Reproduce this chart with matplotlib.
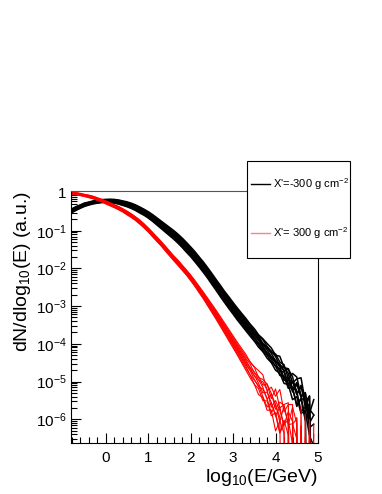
import numpy as np
import matplotlib
matplotlib.use("Agg")
import matplotlib.pyplot as plt
from matplotlib.patches import Rectangle
from matplotlib.lines import Line2D
from matplotlib.ticker import FixedLocator, NullFormatter

plt.rcParams['font.family'] = ['Liberation Sans', 'DejaVu Sans']
plt.rcParams['mathtext.fontset'] = 'custom'
plt.rcParams['mathtext.rm'] = 'Liberation Sans'
plt.rcParams['mathtext.it'] = 'Liberation Sans:italic'

# ---------------- data ----------------
log_e = np.round(np.arange(-0.8, 4.95, 0.1), 2)          # bin centres log10(E/GeV)

# mean spectra, log10(dN/dlog10E)
black_base = [-0.47, -0.41, -0.36, -0.31, -0.28, -0.25, -0.23, -0.215,
              -0.21, -0.21, -0.22, -0.24, -0.27, -0.30, -0.34, -0.39, -0.45, -0.51,
              -0.58, -0.66, -0.75, -0.84, -0.93, -1.02, -1.11, -1.21, -1.32, -1.44,
              -1.56, -1.69, -1.83, -1.97, -2.12, -2.28, -2.44, -2.60, -2.76, -2.91,
              -3.06, -3.21, -3.35, -3.49, -3.63, -3.77, -3.91, -4.05, -4.19, -4.33,
              -4.47, -4.62, -4.78, -4.94, -5.10, -5.27, -5.45, -5.64, -5.85, -6.05]
red_base = [0.00, -0.02, -0.04, -0.065, -0.09, -0.12, -0.16, -0.20,
            -0.25, -0.30, -0.35, -0.40, -0.46, -0.53, -0.60, -0.68, -0.77, -0.87,
            -0.98, -1.10, -1.22, -1.34, -1.47, -1.60, -1.73, -1.85, -1.98, -2.11,
            -2.25, -2.40, -2.56, -2.72, -2.89, -3.06, -3.23, -3.41, -3.59, -3.77,
            -3.95, -4.13, -4.31, -4.49, -4.67, -4.85, -5.03, -5.21, -5.40, -5.58,
            -5.76, -5.93, -6.08, -6.22, -6.34, -6.44, -6.52, -6.58, -6.62, -6.65]

# half-width of the shower-to-shower band (decades)
black_env = [0.05, 0.05, 0.045, 0.045, 0.04, 0.04, 0.04, 0.04,
             0.04, 0.045, 0.05, 0.055, 0.06, 0.065, 0.07, 0.075, 0.08, 0.08,
             0.085, 0.09, 0.095, 0.10, 0.105, 0.11, 0.115, 0.12, 0.125, 0.13,
             0.13, 0.135, 0.135, 0.14, 0.14, 0.145, 0.145, 0.15, 0.15, 0.155,
             0.155, 0.16, 0.16, 0.165, 0.165, 0.17, 0.17, 0.175, 0.18, 0.19,
             0.20, 0.21, 0.22, 0.24, 0.26, 0.28, 0.30, 0.32, 0.34, 0.36]
red_env = [0.03, 0.03, 0.03, 0.03, 0.035, 0.035, 0.035, 0.035,
           0.04, 0.04, 0.04, 0.045, 0.045, 0.05, 0.05, 0.05, 0.055, 0.055,
           0.055, 0.06, 0.06, 0.06, 0.065, 0.065, 0.065, 0.07, 0.07, 0.07,
           0.075, 0.08, 0.085, 0.09, 0.10, 0.11, 0.12, 0.13, 0.14, 0.15,
           0.16, 0.17, 0.19, 0.21, 0.23, 0.25, 0.27, 0.29, 0.31, 0.33,
           0.35, 0.37, 0.39, 0.41, 0.43, 0.45, 0.47, 0.49, 0.50, 0.50]

# per-shower normalisation offsets (in units of the band half-width)
black_offsets = [-1.0, -0.75, -0.5, -0.3, -0.1, 0.1, 0.3, 0.5, 0.75, 1.0]
red_offsets = [-1.0, -0.75, -0.5, -0.3, -0.1, 0.1, 0.3, 0.5, 0.75, 1.0]

# fluctuations in the high-energy tail (log10E = 3.4 ... 4.9); -9 = empty bin
black_tail = [
    [0.00, 0.01, -0.01, 0.02, -0.01, 0.02, -0.03, 0.05, -0.05, 0.10, -0.12, 0.15, -0.10, 0.20, -0.25, -0.30],
    [0.01, -0.01, 0.01, -0.02, 0.02, -0.01, 0.04, -0.06, 0.08, -0.06, 0.14, -0.18, 0.22, -0.15, 0.25, -9],
    [-0.01, 0.01, 0.00, -0.01, 0.03, 0.01, -0.03, 0.06, -0.08, 0.12, 0.05, -0.20, 0.15, 0.30, -0.20, 0.10],
    [0.00, -0.01, -0.02, 0.01, -0.02, 0.03, 0.02, -0.05, 0.10, -0.13, 0.18, 0.10, -0.25, 0.05, 0.35, -9],
    [-0.01, 0.01, 0.02, 0.00, -0.03, -0.01, 0.05, 0.03, -0.10, 0.06, -0.15, 0.22, 0.08, -0.30, 0.15, 0.20],
    [0.01, 0.01, -0.01, 0.02, 0.01, -0.03, -0.02, 0.07, 0.05, -0.14, 0.08, -0.10, 0.28, 0.12, -9, -9],
    [0.00, -0.01, 0.01, -0.01, 0.03, 0.02, -0.05, -0.03, 0.10, 0.08, -0.18, 0.16, -0.05, 0.25, -0.35, 0.05],
    [-0.01, 0.01, 0.02, -0.02, 0.00, 0.04, 0.03, -0.07, -0.05, 0.15, 0.10, -0.22, 0.20, -0.20, 0.30, -9],
    [0.01, -0.02, 0.00, 0.03, -0.01, -0.02, 0.05, -0.02, 0.06, -0.16, 0.12, 0.18, -0.15, 0.10, -0.25, 0.30],
    [-0.01, 0.00, -0.02, 0.01, 0.02, 0.03, -0.03, 0.08, -0.07, 0.04, -0.20, 0.06, 0.25, -0.22, 0.12, -9],
]
red_tail = [
    [0.00, 0.03, -0.05, 0.08, -0.05, 0.15, -0.20, 0.25, 0.10, -9, 0.30, -9, 0.20, -9, -9, -9],
    [0.02, -0.04, 0.04, -0.08, 0.12, -0.08, 0.20, -0.15, 0.35, 0.10, -9, 0.25, -9, 0.30, -9, -9],
    [-0.03, 0.01, 0.06, -0.04, -0.12, 0.18, 0.05, -0.25, 0.15, 0.40, -0.10, -9, 0.45, -9, 0.20, -9],
    [0.03, -0.02, -0.03, 0.10, 0.04, -0.15, 0.25, 0.10, -9, 0.20, 0.35, 0.05, -9, -9, 0.40, -9],
    [-0.01, 0.04, 0.01, -0.06, 0.15, 0.05, -0.12, 0.30, -0.10, -9, 0.25, 0.50, -9, 0.15, -9, 0.30],
    [0.01, -0.03, 0.05, 0.03, -0.10, 0.22, 0.12, -0.18, 0.40, 0.05, -9, -9, 0.30, -9, -9, -9],
    [-0.03, 0.03, -0.01, 0.12, 0.08, -0.20, 0.15, 0.05, -0.20, 0.30, 0.15, -9, 0.20, -9, 0.45, -9],
    [0.02, -0.05, 0.03, -0.03, 0.18, 0.10, -0.15, 0.20, 0.25, -0.15, 0.45, 0.10, -9, -9, -9, 0.25],
    [0.02, 0.04, -0.07, 0.05, 0.10, -0.12, 0.30, -0.05, 0.18, 0.35, -9, 0.15, -9, 0.35, -9, -9],
    [-0.04, -0.01, 0.05, 0.10, -0.15, 0.10, 0.02, 0.35, -0.12, 0.20, 0.30, -9, 0.40, -9, 0.10, -9],
]

legend_labels = ["X'=-300 g cm$^{-2}$", "X'= 300 g cm$^{-2}$"]
x_ticks = [0, 1, 2, 3, 4, 5]
y_tick_exps = [0, -1, -2, -3, -4, -5, -6]
x_label = "log$_{10}$(E/GeV)"
y_label = "dN/dlog$_{10}$(E) (a.u.)"

# ---------------- figure ----------------
W, H = 382, 494
fig = plt.figure(figsize=(W / 100, H / 100), dpi=100)
ax = fig.add_axes([71 / W, 1 - 443 / H, (318 - 71) / W, (443 - 191) / H])


def curves(base, env, offsets, tail):
    base = np.array(base)
    env = np.array(env)
    out = []
    for off, tl in zip(offsets, tail):
        y = base + off * env
        y[-len(tl):] += np.array(tl)
        out.append(10.0 ** y)
    return out


for y in curves(black_base, black_env, black_offsets, black_tail):
    ax.plot(log_e, y, color='black', lw=1.1, solid_joinstyle='round')
for y in curves(red_base, red_env, red_offsets, red_tail):
    ax.plot(log_e, y, color='#ff0000', lw=0.8, solid_joinstyle='round')

ax.set_yscale('log')
ax.set_xlim(-0.82, 5.0)
ax.set_ylim(10 ** -6.63, 10 ** 0.053)

ax.xaxis.set_major_locator(FixedLocator(x_ticks))
ax.xaxis.set_minor_locator(FixedLocator(np.round(np.arange(-0.8, 5.0, 0.2), 2)))
ax.set_xticklabels([str(v) for v in x_ticks])
ax.yaxis.set_major_locator(FixedLocator([10.0 ** e for e in y_tick_exps]))
minor_y = [m * 10.0 ** e for e in range(-7, 1) for m in range(2, 10)]
ax.yaxis.set_minor_locator(FixedLocator(minor_y))
ax.yaxis.set_minor_formatter(NullFormatter())
ax.set_yticklabels(["1" if e == 0 else "$10^{%d}$" % e for e in y_tick_exps])

ax.tick_params(axis='both', which='both', direction='in', top=False, right=False,
               width=0.8, labelsize=11)
ax.tick_params(axis='both', which='major', length=7)
ax.tick_params(axis='both', which='minor', length=4)
ax.tick_params(axis='x', pad=6)
ax.tick_params(axis='y', pad=3)
for s in ax.spines.values():
    s.set_linewidth(0.8)
    s.set_color('black')
ax.spines['top'].set_color('#555555')

ax.set_xlabel(x_label, fontsize=14, loc='right', labelpad=1)
ax.set_ylabel(y_label, fontsize=14, loc='top', labelpad=2)

# legend box (figure coordinates)
lx0, ly0, lx1, ly1 = 247, 161, 350, 258
fig.patches.append(Rectangle((lx0 / W, 1 - ly1 / H), (lx1 - lx0) / W, (ly1 - ly0) / H,
                             transform=fig.transFigure, facecolor='white',
                             edgecolor='black', lw=0.8, zorder=10))
for lab, col, yy in zip(legend_labels, ['black', '#ff8080'], [184, 233]):
    fig.lines.append(Line2D([251 / W, 270 / W], [1 - yy / H, 1 - yy / H],
                            transform=fig.transFigure, color=col, lw=1.0, zorder=11))
    fig.text(273 / W, 1 - yy / H, lab, fontsize=8, va='center', ha='left', zorder=11)

fig.savefig('out.png', dpi=100)
